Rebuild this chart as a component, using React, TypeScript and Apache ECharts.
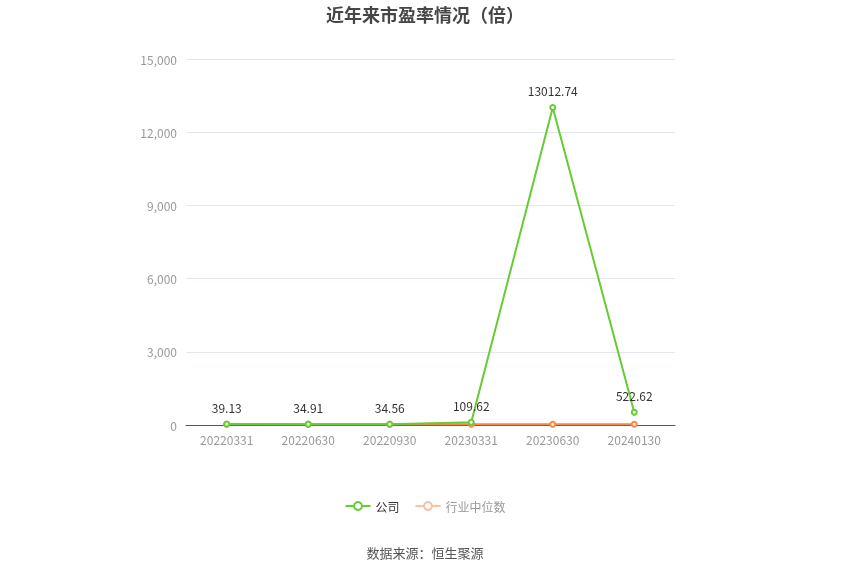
import { useEffect, useRef } from 'react';
import * as echarts from 'echarts';

const categories = ['20220331', '20220630', '20220930', '20230331', '20230630', '20240130'];
const companyPE = [39.13, 34.91, 34.56, 109.62, 13012.74, 522.62];
const industryPE = [32.5, 30.1, 29.8, 28.6, 31.2, 27.4];
const yTicks = { min: 0, max: 15000, interval: 3000 };

const FONT = 'Noto Sans CJK SC';

export default function App() {
  const ref = useRef<HTMLDivElement>(null);

  useEffect(() => {
    const dom = ref.current!;
    const chart = echarts.init(dom, null, { renderer: 'svg' });

    chart.setOption({
      animation: false,
      textStyle: { fontFamily: FONT },
      title: {
        text: '近年来市盈率情况（倍）',
        left: 'center',
        top: 0,
        textStyle: { fontSize: 18, fontWeight: 'bold', color: '#464646', fontFamily: FONT },
      },
      graphic: {
        type: 'text',
        left: 'center',
        top: 546,
        style: { text: '数据来源：恒生聚源', fontSize: 13, fill: '#555', fontFamily: FONT },
      },
      legend: {
        top: 495,
        left: 'center',
        itemWidth: 25,
        itemHeight: 10,
        itemGap: 15,
        textStyle: { fontSize: 12, color: '#333', fontFamily: FONT },
        data: [
          { name: '公司' },
          {
            name: '行业中位数',
            itemStyle: { color: '#fbc0a4' },
            lineStyle: { color: '#fbc0a4' },
            textStyle: { color: '#999' },
          },
        ],
      },
      grid: { left: 186, right: 175, top: 59, bottom: 149 },
      xAxis: {
        type: 'category',
        data: categories,
        axisLine: { lineStyle: { color: '#555' } },
        axisTick: { show: false },
        axisLabel: { color: '#999', fontSize: 12, margin: 8, fontFamily: FONT },
      },
      yAxis: {
        type: 'value',
        ...yTicks,
        axisLine: { show: false },
        axisTick: { show: false },
        axisLabel: { color: '#999', fontSize: 12, margin: 9, fontFamily: FONT },
        splitLine: { lineStyle: { color: '#e3e8f0' } },
      },
      series: [
        {
          name: '公司',
          type: 'line',
          data: companyPE,
          color: '#66cc33',
          symbol: 'emptyCircle',
          symbolSize: 5,
          lineStyle: { width: 2 },
          label: { show: true, position: 'top', color: '#333', fontSize: 12, distance: 7, fontFamily: FONT },
          z: 3,
        },
        {
          name: '行业中位数',
          type: 'line',
          data: industryPE,
          color: '#f7874b',
          symbol: 'emptyCircle',
          symbolSize: 5,
          lineStyle: { width: 2 },
          z: 2,
        },
      ],
    } as echarts.EChartsOption);

    return () => {
      chart.dispose();
    };
  }, []);

  return <div ref={ref} style={{ position: 'fixed', left: 0, top: 0, width: 850, height: 574 }} />;
}
